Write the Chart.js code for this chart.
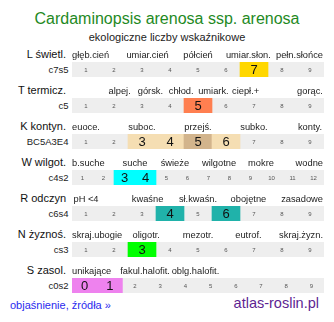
<!DOCTYPE html>
<html>
<head>
<meta charset="utf-8">
<script src="https://cdn.jsdelivr.net/npm/chart.js@4"></script>
<style>
body{margin:0;width:334px;height:322px;background:#fff;position:relative;overflow:hidden;font-family:Arial,"Liberation Sans",sans-serif}
.t{position:absolute;white-space:nowrap}
#title{left:0;width:334px;top:11px;text-align:center;font-size:16px;line-height:16px;color:#1f8a1f}
#sub{left:0;width:334px;top:32px;text-align:center;font-size:11px;line-height:11px;color:#222}
.name{right:268px;font-size:11px;line-height:11px;color:#111}
.code{right:265.5px;font-size:9.5px;line-height:9.5px;color:#222}
#link{left:10px;top:300px;font-size:11px;line-height:11px;color:#2a2aee}
#site{right:15px;top:296px;font-size:14.5px;line-height:14.5px;color:#5e1f92}
canvas{position:absolute}
</style>
</head>
<body>
<div class="t" id="title">Cardaminopsis arenosa ssp. arenosa</div>
<div class="t" id="sub">ekologiczne liczby wskaźnikowe</div>
<div class="t" id="link">objaśnienie, źródła »</div>
<div class="t" id="site">atlas-roslin.pl</div>
<script>
// ROWS
const rowNames = ["L świetl.", "T termicz.", "K kontyn.", "W wilgot.", "R odczyn", "N żyznoś.", "S zasol."];
const rowCodes = ["c7s5", "c5", "BC5A3E4", "c4s2", "c6s4", "cs3", "c0s2"];

// CELLS (tick labels)
const cells9 = ["1","2","3","4","5","6","7","8","9"];
const wCells = ["1","2","3","4","5","6","7","8","9","10","11","12"];
const sCells = ["0","1","2","3","4","5","6","7","8","9"];

// DESCRIPTORS + the scale value each one sits over
const lWords = ["głęb.cień","umiar.cień","półcień","umiar.słon.","pełn.słońce"];
const lWordsAt = [1,3.2,5,6.8,9];
const tWords = ["alpej.","górsk.","chłod.","umiark.","ciepł.+","gorąc."];
const tWordsAt = [2.2,3.3,4.4,5.55,6.7,9];
const kWords = ["euoce.","suboc.","przejś.","subko.","konty."];
const kWordsAt = [1,3,5,7,9];
const wWords = ["b.suche","suche","świeże","wilgotne","mokre","wodne"];
const wWordsAt = [1,3.5,5.4,7.5,9.5,12];
const rWords = ["pH <4","kwaśne","sł.kwaśn.","obojętne","zasadowe"];
const rWordsAt = [1,3.2,5,6.8,9];
const nWords = ["skraj.ubogie","oligotr.","mezotr.","eutrof.","skraj.żyzn."];
const nWordsAt = [1,3.15,5,6.8,9];
const sWords = ["unikające","fakul.halofit.","oblg.halofit."];
const sWordsAt = [0,2.4,4.4];

// VALUES
const lValues = [7];
const tValues = [5];
const kValues = [3,4,5,6];
const kMain = 5;
const wValues = [3,4];
const rValues = [4,6];
const nValues = [3];
const sValues = [0,1];

// STYLE
const rowColors = ["#ffd700","#ff7f50","#f5deb3","#00ffff","#20b2aa","#00ff00","#ee82ee"];
const mainColor = "#d2b48c";

const rows = [
  {cells:cells9, words:lWords, at:lWordsAt, values:lValues},
  {cells:cells9, words:tWords, at:tWordsAt, values:tValues},
  {cells:cells9, words:kWords, at:kWordsAt, values:kValues, main:kMain},
  {cells:wCells, words:wWords, at:wWordsAt, values:wValues},
  {cells:cells9, words:rWords, at:rWordsAt, values:rValues},
  {cells:cells9, words:nWords, at:nWordsAt, values:nValues},
  {cells:sCells, words:sWords, at:sWordsAt, values:sValues}
];

// strip background, numbers in cells, words above
const stripPlugin = {
  id:'strip',
  beforeDatasetsDraw(chart){
    const a = chart.chartArea, c = chart.ctx;
    c.save();
    c.fillStyle = '#eeeeee';
    c.fillRect(a.left, a.top, a.right-a.left, a.bottom-a.top);
    c.restore();
  },
  afterDatasetsDraw(chart){
    const r = chart.config.options.row;
    const a = chart.chartArea, c = chart.ctx, x = chart.scales.x;
    const mid = (a.top+a.bottom)/2;
    c.save();
    c.textAlign = 'center';
    c.textBaseline = 'middle';
    r.cells.forEach((lab,i)=>{
      const px = x.getPixelForValue(i);
      if(r.values.includes(+lab)){
        c.font = '13px Arial, "Liberation Sans", sans-serif';
        c.fillStyle = '#111';
        c.fillText(lab, px, mid+1);
      } else {
        c.font = '6px Arial, "Liberation Sans", sans-serif';
        c.fillStyle = '#555';
        c.fillText(lab, px, mid+0.5);
      }
    });
    // descriptors
    c.font = '9.3px Arial, "Liberation Sans", sans-serif';
    c.fillStyle = '#222';
    c.textAlign = 'left';
    c.textBaseline = 'alphabetic';
    const first = +r.cells[0];
    r.words.forEach((w,i)=>{
      const wd = c.measureText(w).width;
      let left = x.getPixelForValue(r.at[i]-first) - wd/2;
      left = Math.max(a.left, Math.min(a.right-wd-1, left));
      c.fillText(w, left, a.top-4.5);
    });
    c.restore();
  }
};

rows.forEach((r,i)=>{
  const top = 62 + i*36;

  const nm = document.createElement('div');
  nm.className = 't name';
  nm.style.top = (top-13.3)+'px';
  nm.textContent = rowNames[i];
  document.body.appendChild(nm);

  const cd = document.createElement('div');
  cd.className = 't code';
  cd.style.top = (top+2.5)+'px';
  cd.textContent = rowCodes[i];
  document.body.appendChild(cd);

  const cv = document.createElement('canvas');
  cv.width = 252; cv.height = 35;
  cv.style.left = '72px';
  cv.style.top = (top-20)+'px';
  document.body.appendChild(cv);

  new Chart(cv,{
    type:'bar',
    data:{
      labels:r.cells,
      datasets:[{
        data:r.cells.map(c=>r.values.includes(+c)?1:null),
        backgroundColor:r.cells.map(c=>(+c===r.main)?mainColor:rowColors[i]),
        borderWidth:0,
        barPercentage:1,
        categoryPercentage:1
      }]
    },
    options:{
      row:r,
      responsive:false,
      animation:false,
      events:[],
      layout:{padding:{top:20,left:0,right:0,bottom:0}},
      plugins:{legend:{display:false},tooltip:{enabled:false}},
      scales:{
        x:{display:false},
        y:{display:false,min:0,max:1}
      }
    },
    plugins:[stripPlugin]
  });
});
</script>
</body>
</html>
